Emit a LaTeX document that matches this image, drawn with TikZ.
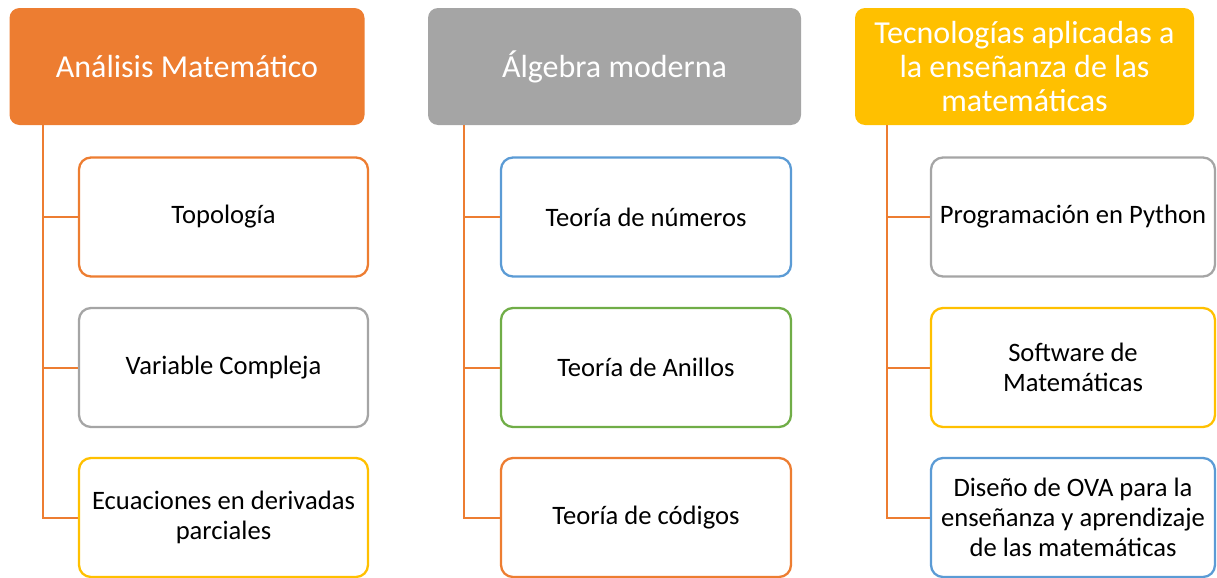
\documentclass[tikz,border=0pt]{standalone}
\usepackage{fontspec}
\setmainfont{Carlito}
\usetikzlibrary{positioning}
\usetikzlibrary{calc}

\definecolor{accOrange}{HTML}{ED7D31}
\definecolor{accGray}{HTML}{A5A5A5}
\definecolor{accGold}{HTML}{FFC000}
\definecolor{accBlue}{HTML}{5B9BD5}
\definecolor{accGreen}{HTML}{70AD47}

\begin{document}
\begin{tikzpicture}[x=0.5pt, y=-0.5pt,
    head/.style={fill=#1, rounded corners=5pt, text=white, align=center, inner sep=0pt,
      minimum height=58.5pt, font=\fontsize{16}{17.2}\selectfont},
    sub/.style={draw=#1, fill=white, line width=1.15pt, rounded corners=6pt, text=black, align=center,
      inner sep=0pt, minimum height=59.5pt, font=\fontsize{13.3}{15}\selectfont},
    branch/.style={draw=accOrange, line width=1pt}]

        \useasboundingbox (0,0) rectangle (1217,578);

        % Column headers
        \node[head=accOrange, minimum width=177.5pt] (h1) at (187, 66.5) {Análisis Matemático};
        \node[head=accGray, minimum width=186.5pt] (h2) at (614.5, 66.5) {Álgebra moderna};
        \node[head=accGold, minimum width=169.5pt] (h3) at (1024.5, 66.5) {Tecnologías aplicadas a\\la enseñanza de las\\matemáticas};

        % Children of the first column
        \node[sub=accOrange, minimum width=144.5pt] (a1) at (223.5, 217) {Topología};
        \node[sub=accGray, minimum width=144.5pt] (a2) at (223.5, 367.5) {Variable Compleja};
        \node[sub=accGold, minimum width=144.5pt] (a3) at (223.5, 517.5) {Ecuaciones en derivadas\\parciales};

        % Children of the second column
        \node[sub=accBlue, minimum width=145pt] (b1) at (646, 217) {Teoría de números};
        \node[sub=accGreen, minimum width=145pt] (b2) at (646, 367.5) {Teoría de Anillos};
        \node[sub=accOrange, minimum width=145pt] (b3) at (646, 517.5) {Teoría de códigos};

        % Children of the third column
        \node[sub=accGray, minimum width=142pt] (c1) at (1073, 217) {Programación en Python};
        \node[sub=accGold, minimum width=142pt] (c2) at (1073, 367.5) {Software de\\Matemáticas};
        \node[sub=accBlue, minimum width=142pt] (c3) at (1073, 517.5) {Diseño de OVA para la\\enseñanza y aprendizaje\\de las matemáticas};

        % Trunks below the headers
        \coordinate (ta) at (43, 125);
        \coordinate (tb) at (464, 125);
        \coordinate (tc) at (887, 125);

        \foreach \col in {a,b,c} {
          \foreach \r in {1,2,3} {
            \draw[branch] (t\col) |- (\col\r.west);
          }
        }

      \end{tikzpicture}
\end{document}
